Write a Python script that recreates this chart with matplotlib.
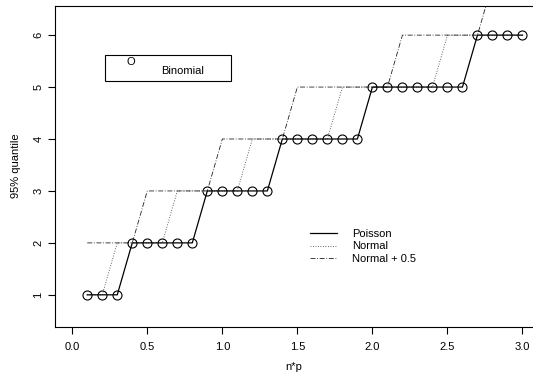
import numpy as np
import matplotlib
matplotlib.use('Agg')
import matplotlib.pyplot as plt
from matplotlib.patches import Rectangle

plt.rcParams['font.family'] = ['Liberation Sans', 'DejaVu Sans']

# n*p grid and 95% quantiles
np_vals = [0.1, 0.2, 0.3, 0.4, 0.5, 0.6, 0.7, 0.8, 0.9, 1.0,
           1.1, 1.2, 1.3, 1.4, 1.5, 1.6, 1.7, 1.8, 1.9, 2.0,
           2.1, 2.2, 2.3, 2.4, 2.5, 2.6, 2.7, 2.8, 2.9, 3.0]
binomial = [1, 1, 1, 2, 2, 2, 2, 2, 3, 3,
            3, 3, 3, 4, 4, 4, 4, 4, 4, 5,
            5, 5, 5, 5, 5, 5, 6, 6, 6, 6]
poisson = [1, 1, 1, 2, 2, 2, 2, 2, 3, 3,
           3, 3, 3, 4, 4, 4, 4, 4, 4, 5,
           5, 5, 5, 5, 5, 5, 6, 6, 6, 6]
normal = [1, 1, 2, 2, 2, 2, 3, 3, 3, 3,
          3, 4, 4, 4, 4, 4, 4, 5, 5, 5,
          5, 5, 5, 5, 6, 6, 6, 6, 6, 6]
normal_half = [2, 2, 2, 2, 3, 3, 3, 3, 3, 4,
               4, 4, 4, 4, 5, 5, 5, 5, 5, 5,
               5, 6, 6, 6, 6, 6, 6, 7, 7, 7]

fig = plt.figure(figsize=(5.33, 3.75), dpi=100)
ax = fig.add_axes([0.1023, 0.1293, 0.8977, 0.856])

# Lines
ax.plot(np_vals, normal, color='#333333', lw=0.6, ls=(0, (1, 2)), label='Normal')
ax.plot(np_vals, normal_half, color='#222222', lw=0.6, ls=(0, (6, 2, 1, 2)), label='Normal + 0.5')
ax.plot(np_vals, poisson, color='black', lw=0.9, label='Poisson')
ax.plot(np_vals, binomial, ls='none', marker='o', ms=6.5, mfc='none', mec='black', mew=0.8)

ax.set_xlim(-0.118, 3.07)
ax.set_ylim(0.39, 6.57)
ax.set_xticks([0.0, 0.5, 1.0, 1.5, 2.0, 2.5, 3.0])
ax.set_xticklabels(['0.0', '0.5', '1.0', '1.5', '2.0', '2.5', '3.0'])
ax.set_yticks([1, 2, 3, 4, 5, 6])
ax.tick_params(axis='x', labelsize=8, length=5, width=0.8, pad=6)
ax.tick_params(axis='y', labelsize=8, length=5, width=0.8, pad=3)
for lab in ax.get_yticklabels():
    lab.set_rotation(90)
    lab.set_va('center')
ax.spines['right'].set_visible(False)
for s in ['left', 'top', 'bottom']:
    ax.spines[s].set_linewidth(0.8)

ax.set_xlabel('n*p', fontsize=8, labelpad=7)
ax.set_ylabel('95% quantile', fontsize=8, labelpad=9)

# Binomial legend box (drawn by hand, R style)
ax.add_patch(Rectangle((0.1055, 0.7658), 0.2633, 0.080, transform=ax.transAxes,
                       fill=False, lw=0.8, ec='black'))
ax.text(0.159, 0.823, 'O', transform=ax.transAxes, fontsize=8, ha='center', va='center')
ax.text(0.222, 0.797, 'Binomial', transform=ax.transAxes, fontsize=8, ha='left', va='center')

# Line legend
handles, labels = ax.get_legend_handles_labels()
order = [2, 0, 1]
ax.legend([handles[i] for i in order], [labels[i] for i in order],
          loc='upper left', bbox_to_anchor=(0.534, 0.303), frameon=False,
          fontsize=8, handlelength=2.45, handletextpad=1.3, labelspacing=0.2,
          borderpad=0, borderaxespad=0)

fig.savefig('out.png', dpi=100)
